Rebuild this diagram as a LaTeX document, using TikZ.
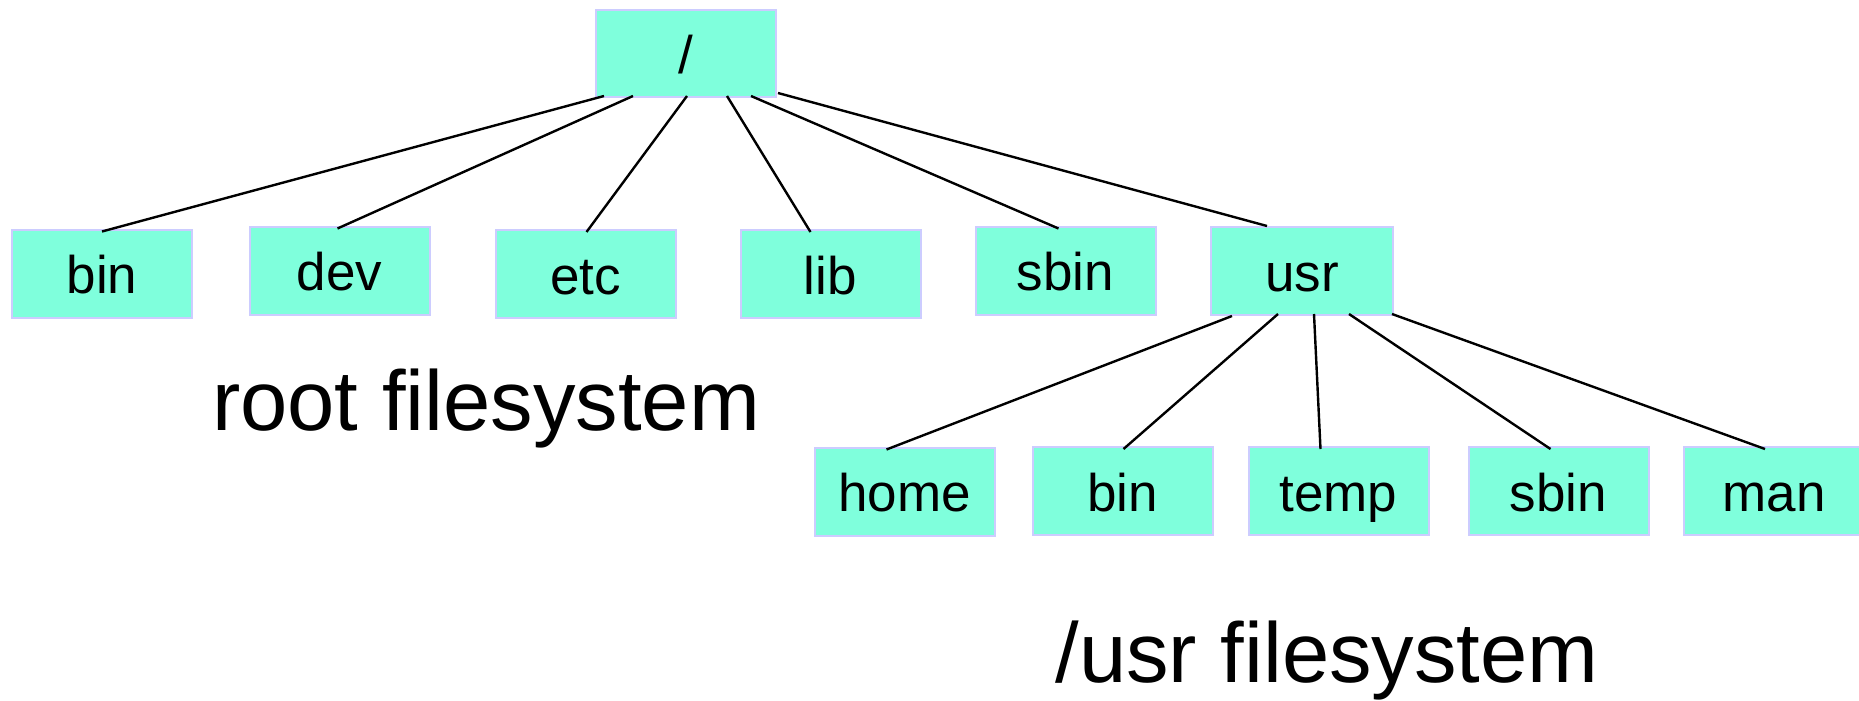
\documentclass[tikz,border=0pt]{standalone}
\usepackage{fontspec}
\setmainfont{Liberation Sans}
\usetikzlibrary{calc}
\definecolor{boxfill}{RGB}{127,255,220}
\definecolor{boxedge}{RGB}{204,204,255}
\tikzset{
  dirbox/.style={draw=boxedge, line width=1pt, fill=boxfill, rectangle,
    minimum width=90pt, minimum height=44pt, inner sep=0pt,
    text height=20pt, text depth=0pt, font=\fontsize{26.5}{30}\selectfont},
  link/.style={line width=1.2pt, black},
  caption/.style={anchor=base, inner sep=0pt, font=\fontsize{42.5}{48}\selectfont}
}
\begin{document}
\begin{tikzpicture}[x=0.5pt, y=-0.5pt]
\useasboundingbox (0,0) rectangle (1859,701);

% top-level directory
\node[dirbox, minimum height=43.5pt] (root) at (686,53.5) {/};

% directories of the root filesystem
\node[dirbox] (bin)  at (102,273.5)  {bin};
\node[dirbox] (dev)  at (339.5,270.5) {dev};
\node[dirbox] (etc)  at (585.5,274)  {etc};
\node[dirbox] (lib)  at (830.5,274)  {lib};
\node[dirbox] (sbin) at (1065.5,270.5) {sbin};
\node[dirbox, minimum width=91pt] (usr) at (1302,271) {usr};

% directories of the /usr filesystem
\node[dirbox] (home)  at (904.5,491.5) {home};
\node[dirbox] (ubin)  at (1122.5,491)  {bin};
\node[dirbox] (temp)  at (1338.5,491)  {temp};
\node[dirbox] (usbin) at (1558.5,491)  {sbin};
\node[dirbox] (man)   at (1774,491)    {man};

% links from /
\draw[link] ($(root.south)+(-82,-2)$) -- ($(bin.north)+(0,3)$);
\draw[link] ($(root.south)+(-53,-2)$) -- ($(dev.north)+(-2,3)$);
\draw[link] ($(root.south)+(1,-2)$)   -- ($(etc.north)+(1,3)$);
\draw[link] ($(root.south)+(41,-2)$)  -- ($(lib.north)+(-20,3)$);
\draw[link] ($(root.south)+(65,-2)$)  -- ($(sbin.north)+(-7,3)$);
\draw[link] ($(root.south east)+(1,-5)$) -- ($(usr.north)+(-35,0)$);

% links from usr
\draw[link] ($(usr.south)+(-70,0)$) -- ($(home.north)+(-18,3)$);
\draw[link] ($(usr.south)+(-24,-2)$) -- ($(ubin.north)+(1,3)$);
\draw[link] ($(usr.south)+(12,-2)$)  -- ($(temp.north)+(-18,3)$);
\draw[link] ($(usr.south)+(47,-2)$)  -- ($(usbin.north)+(-8,3)$);
\draw[link] ($(usr.south east)+(-2,-2)$) -- ($(man.north)+(-9,3)$);

% captions
\node[caption] (rootcap) at (486,430) {root filesystem};
\node[caption] (usrcap)  at (1327,682) {/usr filesystem};
\end{tikzpicture}
\end{document}
